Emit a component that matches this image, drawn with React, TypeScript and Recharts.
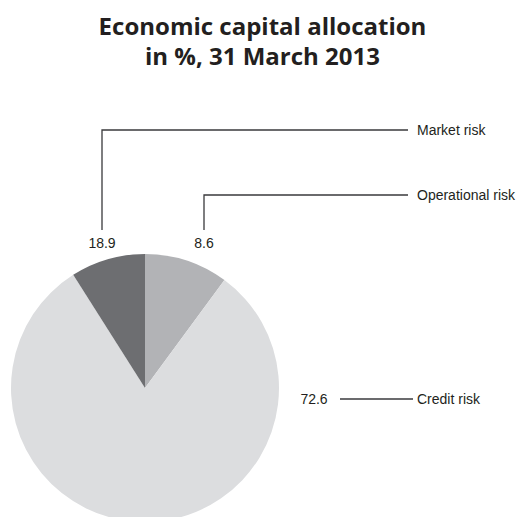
import { Cell, Customized, Pie, PieChart } from "recharts";

// slice order is clockwise from 12 o'clock
const categories = ["Operational risk", "Credit risk", "Market risk"];
// printed figures
const printedValues = ["8.6", "72.6", "18.9"];
// shares as drawn in the picture (the drawn angles do not follow the printed figures)
const drawnShares = [10.1, 80.9, 9.0];

const COLORS = ["#b2b3b6", "#dcdddf", "#6d6e71"];
const INK = "#231f20";

const chartData = categories.map((name, i) => ({
  name,
  value: drawnShares[i],
  label: printedValues[i],
}));

// leader layout: value label position, elbow path, legend text position
const LEADERS = [
  { value: { x: 204, y: 243 }, path: "M204,230 V195 H408", text: { x: 417, y: 195 } },
  { value: { x: 314, y: 399 }, path: "M340,399 H413", text: { x: 417, y: 399 } },
  { value: { x: 102, y: 243 }, path: "M102,230 V130 H408", text: { x: 417, y: 130 } },
];

function Leaders() {
  return (
    <g fontFamily="Liberation Sans, Arial, sans-serif" fontSize={14} fill={INK}>
      {chartData.map((d, i) => {
        const l = LEADERS[i];
        return (
          <g key={d.name}>
            <path d={l.path} stroke="#3a3a3c" strokeWidth={1.3} fill="none" />
            <text x={l.value.x} y={l.value.y} textAnchor="middle" dominantBaseline="central">
              {d.label}
            </text>
            <text x={l.text.x} y={l.text.y} textAnchor="start" dominantBaseline="central">
              {d.name}
            </text>
          </g>
        );
      })}
    </g>
  );
}

export default function App() {
  return (
    <div style={{ position: "absolute", left: 0, top: 0, width: 521, height: 517, background: "#fff", overflow: "hidden" }}>
      <div
        style={{
          position: "absolute",
          top: 11,
          left: 0,
          width: 521,
          textAlign: "center",
          fontFamily: "'Open Sans', sans-serif",
          fontWeight: 700,
          fontSize: 24,
          lineHeight: "30px",
          color: INK,
          paddingLeft: 2,
        }}
      >
        Economic capital allocation
        <br />
        in %, 31 March 2013
      </div>
      <PieChart
        width={521}
        height={517}
        margin={{ top: 0, right: 0, bottom: 0, left: 0 }}
        style={{ position: "absolute", left: 0, top: 0 }}
      >
        <Pie
          data={chartData}
          dataKey="value"
          nameKey="name"
          cx={145}
          cy={388}
          outerRadius={134}
          startAngle={90}
          endAngle={-270}
          stroke="none"
          isAnimationActive={false}
        >
          {chartData.map((d, i) => (
            <Cell key={d.name} fill={COLORS[i]} />
          ))}
        </Pie>
        <Customized component={Leaders} />
      </PieChart>
    </div>
  );
}
